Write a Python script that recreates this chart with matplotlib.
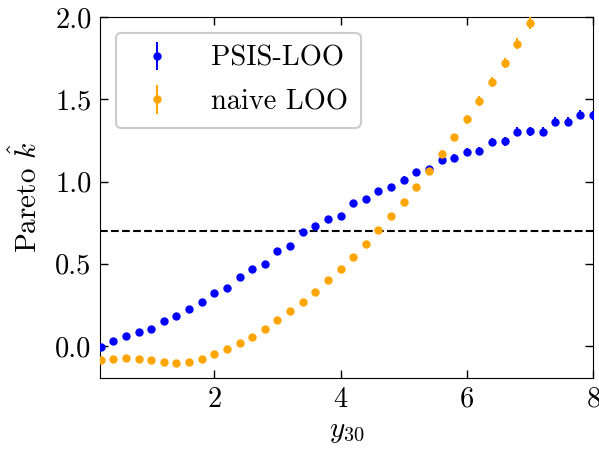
import numpy as np
import matplotlib
matplotlib.use('Agg')
from matplotlib import pyplot as plt

plt.rcParams['font.family'] = 'serif'
plt.rcParams['font.serif'] = ['cmr10']
plt.rcParams['mathtext.fontset'] = 'cm'
plt.rcParams['axes.formatter.use_mathtext'] = True

# x grid of the data (y_30 values)
y30 = [0.2, 0.4, 0.6, 0.8, 1.0, 1.2, 1.4, 1.6, 1.8, 2.0,
       2.2, 2.4, 2.6, 2.8, 3.0, 3.2, 3.4, 3.6, 3.8, 4.0,
       4.2, 4.4, 4.6, 4.8, 5.0, 5.2, 5.4, 5.6, 5.8, 6.0,
       6.2, 6.4, 6.6, 6.8, 7.0, 7.2, 7.4, 7.6, 7.8, 8.0]

k_psis = [-0.004, 0.03, 0.059, 0.087, 0.106, 0.152, 0.185, 0.224, 0.27, 0.325,
          0.352, 0.421, 0.467, 0.498, 0.577, 0.61, 0.691, 0.727, 0.772, 0.788,
          0.87, 0.892, 0.943, 0.965, 1.012, 1.055, 1.075, 1.132, 1.144, 1.181,
          1.183, 1.242, 1.244, 1.303, 1.305, 1.303, 1.364, 1.364, 1.407, 1.402]
err_psis = [0.004, 0.005, 0.005, 0.006, 0.006, 0.007, 0.007, 0.008, 0.008, 0.009,
            0.009, 0.010, 0.010, 0.011, 0.012, 0.012, 0.013, 0.014, 0.015, 0.015,
            0.016, 0.017, 0.018, 0.018, 0.019, 0.020, 0.021, 0.022, 0.022, 0.023,
            0.024, 0.024, 0.025, 0.026, 0.026, 0.027, 0.027, 0.028, 0.028, 0.029]

# naive LOO leaves the plot above 2.0, only the visible part kept
y30_naive = y30[:35]
k_naive = [-0.083, -0.081, -0.073, -0.077, -0.083, -0.1, -0.106, -0.096, -0.077, -0.049,
           -0.02, 0.016, 0.057, 0.104, 0.155, 0.211, 0.268, 0.331, 0.4, 0.468,
           0.543, 0.622, 0.705, 0.789, 0.876, 0.966, 1.065, 1.169, 1.268, 1.378,
           1.49, 1.604, 1.72, 1.839, 1.965]
err_naive = [0.003, 0.003, 0.003, 0.003, 0.003, 0.003, 0.003, 0.003, 0.004, 0.004,
             0.005, 0.005, 0.006, 0.007, 0.008, 0.009, 0.010, 0.011, 0.012, 0.013,
             0.014, 0.015, 0.016, 0.017, 0.018, 0.020, 0.021, 0.023, 0.024, 0.026,
             0.028, 0.030, 0.032, 0.034, 0.036]

threshold = 0.7

fig = plt.figure(figsize=(5.99, 4.49), dpi=100)
ax = fig.add_axes([0.167, 0.158, 0.823, 0.804])

ax.errorbar(y30, k_psis, yerr=err_psis, fmt='o', color='blue', ms=5, elinewidth=1.5,
            label='PSIS-LOO', zorder=3)
ax.errorbar(y30_naive, k_naive, yerr=err_naive, fmt='o', color='orange', ms=5, elinewidth=1.5,
            label='naive LOO', zorder=3)
ax.axhline(threshold, color='black', ls='--', lw=1.5, zorder=2)

ax.set_xlim(0.19, 8)
ax.set_ylim(-0.195, 2.0)
ax.set_xticks([2, 4, 6, 8])
ax.set_yticks([0.0, 0.5, 1.0, 1.5, 2.0])
ax.set_yticklabels(['0.0', '0.5', '1.0', '1.5', '2.0'])
ax.tick_params(direction='in', top=True, right=True, labelsize=20.5, length=6, width=1, pad=6)
ax.set_xlabel(r'$y_{30}$', fontsize=21, labelpad=4)
ax.set_ylabel(r'Pareto $\hat{k}$', fontsize=21, labelpad=9)

leg = ax.legend(loc='upper left', fontsize=20.5, framealpha=1, edgecolor='#cccccc',
                borderpad=0.45, handletextpad=0.9, labelspacing=0.6, borderaxespad=0.55)
leg.get_frame().set_linewidth(1.5)

plt.savefig('out.png', dpi=100)
